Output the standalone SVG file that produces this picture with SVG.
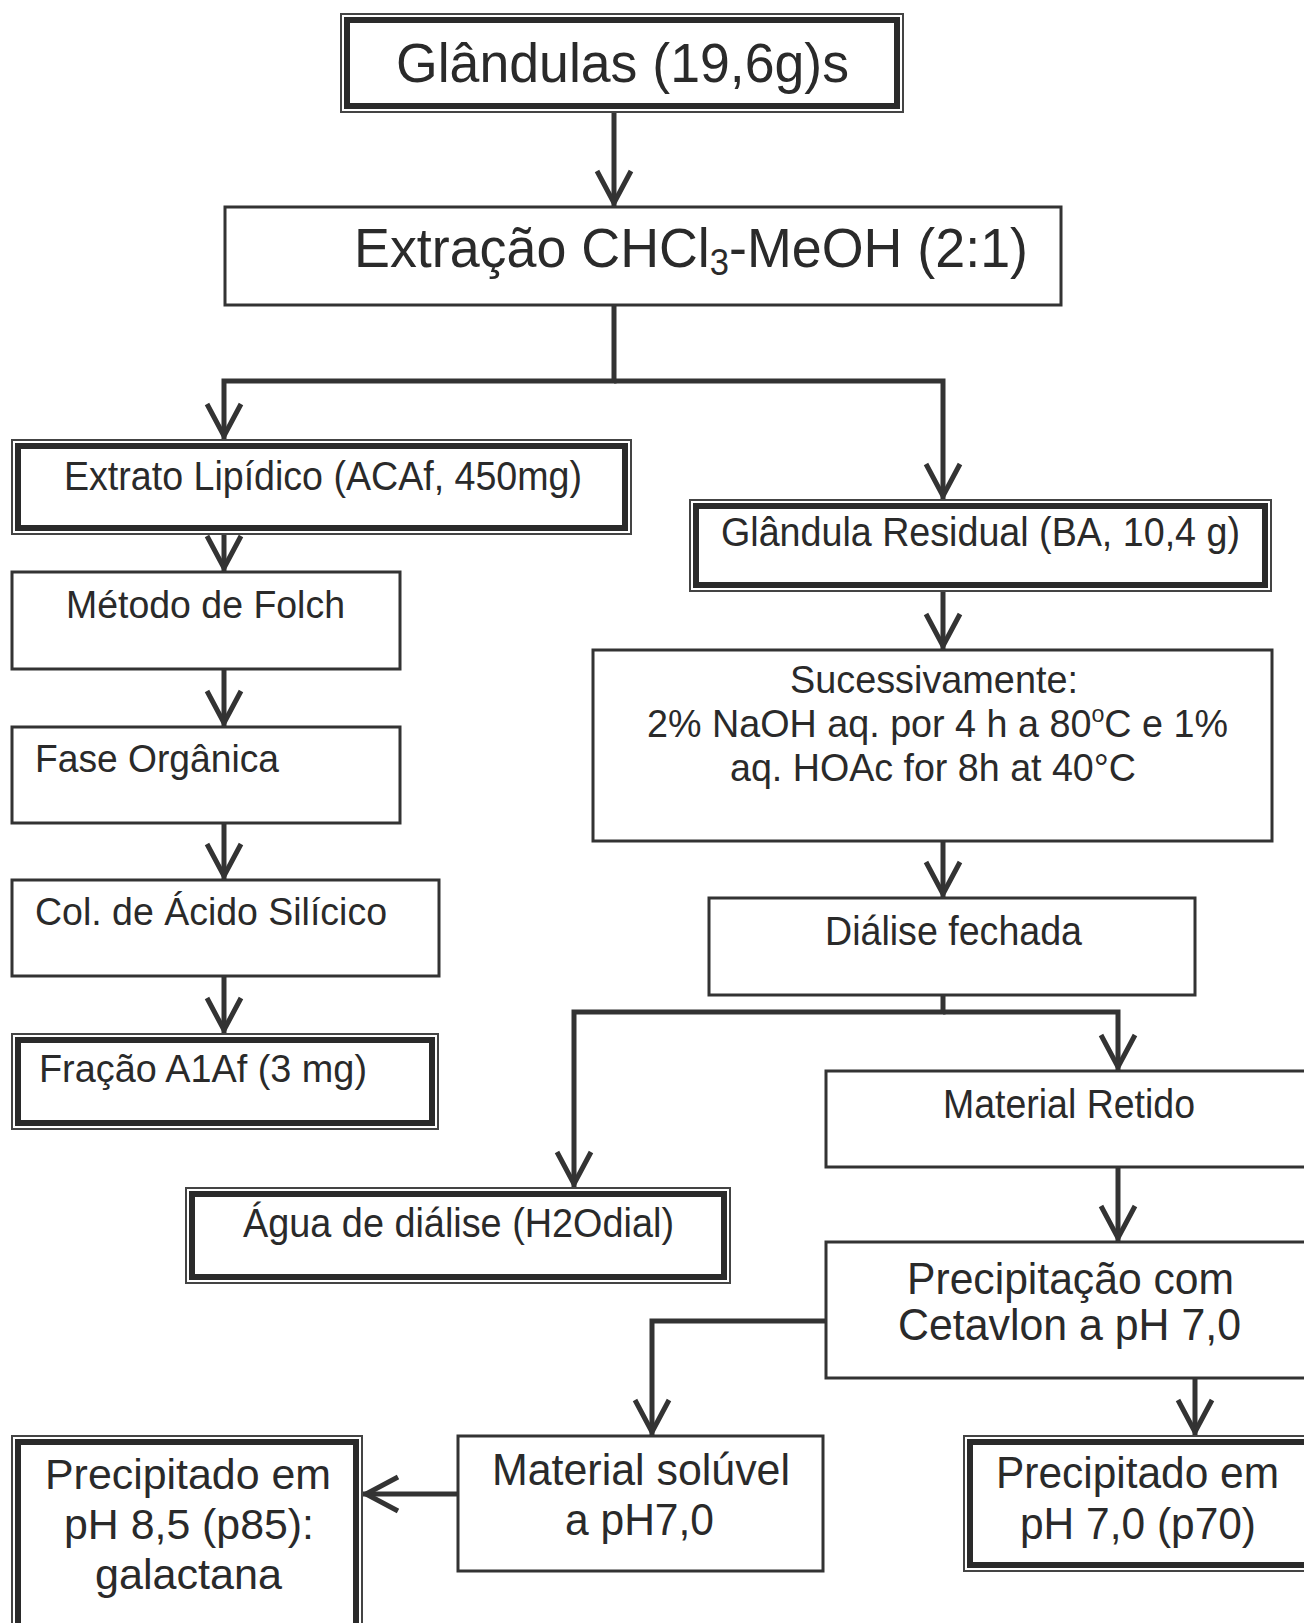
<svg xmlns="http://www.w3.org/2000/svg" width="1304" height="1623" viewBox="0 0 1304 1623">
<style>
.bx{fill:#fff;stroke:#333;stroke-width:3}
.o{fill:#fff;stroke:#444;stroke-width:2}
.i{fill:none;stroke:#2a2a2a;stroke-width:6}
.t{font-family:"Liberation Sans",Arial,sans-serif;fill:#2a2a2a}
.c{fill:none;stroke:#333;stroke-width:5;marker-end:url(#ah)}
</style>
<defs>
<marker id="ah" markerUnits="userSpaceOnUse" viewBox="-44 -24 50 48" markerWidth="50" markerHeight="48" refX="0" refY="0" orient="auto" overflow="visible">
<path d="M-36,-17 L-4,0 L-36,17" fill="none" stroke="#333" stroke-width="5"/>
</marker>
</defs>
<rect width="1304" height="1623" fill="#fff"/>

<g id="connectors">
<path class="c" d="M614,112 V207"/>
<path class="c" d="M614,305 V381 H224 V440"/>
<path class="c" d="M614,381 H943 V500"/>
<path class="c" d="M224,534 V572"/>
<path class="c" d="M224,669 V727"/>
<path class="c" d="M224,823 V880"/>
<path class="c" d="M224,976 V1034"/>
<path class="c" d="M943,591 V650"/>
<path class="c" d="M943,841 V898"/>
<path class="c" d="M943,995 V1012 H574 V1188"/>
<path class="c" d="M943,1012 H1118 V1071"/>
<path class="c" d="M1118,1167 V1242"/>
<path class="c" d="M826,1321 H652 V1436"/>
<path class="c" d="M1195,1378 V1436"/>
<path class="c" d="M458,1494 H362"/>
</g>

<g id="glandulas">
<rect class="o" x="341" y="14" width="562" height="98"/>
<rect class="i" x="347" y="20" width="550" height="86"/>
<text class="t" x="396" y="82" font-size="56" textLength="453" lengthAdjust="spacingAndGlyphs">Glândulas (19,6g)s</text>
</g>

<g id="extracao">
<rect class="bx" x="225" y="207" width="836" height="98"/>
<text class="t" x="354" y="267" font-size="56" textLength="674" lengthAdjust="spacingAndGlyphs">Extração CHCl<tspan font-size="36" dy="8">3</tspan><tspan dy="-8">-MeOH (2:1)</tspan></text>
</g>

<g id="extrato">
<rect class="o" x="12" y="440" width="619" height="94"/>
<rect class="i" x="18" y="446" width="607" height="82"/>
<text class="t" x="64" y="490" font-size="41" textLength="518" lengthAdjust="spacingAndGlyphs">Extrato Lipídico (ACAf, 450mg)</text>
</g>

<g id="folch">
<rect class="bx" x="12" y="572" width="388" height="97"/>
<text class="t" x="66" y="618" font-size="38" textLength="279" lengthAdjust="spacingAndGlyphs">Método de Folch</text>
</g>

<g id="fase">
<rect class="bx" x="12" y="727" width="388" height="96"/>
<text class="t" x="35" y="772" font-size="38" textLength="244" lengthAdjust="spacingAndGlyphs">Fase Orgânica</text>
</g>

<g id="coluna">
<rect class="bx" x="12" y="880" width="427" height="96"/>
<text class="t" x="35" y="925" font-size="38" textLength="352" lengthAdjust="spacingAndGlyphs">Col. de Ácido Silícico</text>
</g>

<g id="fracao">
<rect class="o" x="12" y="1034" width="426" height="95"/>
<rect class="i" x="18" y="1040" width="414" height="83"/>
<text class="t" x="39" y="1082" font-size="38" textLength="328" lengthAdjust="spacingAndGlyphs">Fração A1Af (3 mg)</text>
</g>

<g id="residual">
<rect class="o" x="690" y="500" width="581" height="91"/>
<rect class="i" x="696" y="506" width="569" height="79"/>
<text class="t" x="721" y="546" font-size="40" textLength="519" lengthAdjust="spacingAndGlyphs">Glândula Residual (BA, 10,4 g)</text>
</g>

<g id="sucessivamente">
<rect class="bx" x="593" y="650" width="679" height="191"/>
<text class="t" x="790" y="693" font-size="39" textLength="288" lengthAdjust="spacingAndGlyphs">Sucessivamente:</text>
<text class="t" x="647" y="737" font-size="39" textLength="581" lengthAdjust="spacingAndGlyphs">2% NaOH aq. por 4 h a 80<tspan font-size="24" dy="-15">o</tspan><tspan dy="15">C e 1%</tspan></text>
<text class="t" x="730" y="781" font-size="39" textLength="406" lengthAdjust="spacingAndGlyphs">aq. HOAc for 8h at 40°C</text>
</g>

<g id="dialise">
<rect class="bx" x="709" y="898" width="486" height="97"/>
<text class="t" x="825" y="945" font-size="40" textLength="257" lengthAdjust="spacingAndGlyphs">Diálise fechada</text>
</g>

<g id="retido">
<rect class="bx" x="826" y="1071" width="490" height="96"/>
<text class="t" x="943" y="1118" font-size="40" textLength="252" lengthAdjust="spacingAndGlyphs">Material Retido</text>
</g>

<g id="agua">
<rect class="o" x="186" y="1188" width="544" height="95"/>
<rect class="i" x="192" y="1194" width="532" height="83"/>
<text class="t" x="243" y="1237" font-size="40" textLength="431" lengthAdjust="spacingAndGlyphs">Água de diálise (H2Odial)</text>
</g>

<g id="precipitacao">
<rect class="bx" x="826" y="1242" width="490" height="136"/>
<text class="t" x="907" y="1294" font-size="45" textLength="327" lengthAdjust="spacingAndGlyphs">Precipitação com</text>
<text class="t" x="898" y="1340" font-size="45" textLength="343" lengthAdjust="spacingAndGlyphs">Cetavlon a pH 7,0</text>
</g>

<g id="soluvel">
<rect class="bx" x="458" y="1436" width="365" height="135"/>
<text class="t" x="492" y="1485" font-size="44" textLength="298" lengthAdjust="spacingAndGlyphs">Material solúvel</text>
<text class="t" x="565" y="1535" font-size="44" textLength="149" lengthAdjust="spacingAndGlyphs">a pH7,0</text>
</g>

<g id="p85">
<rect class="o" x="12" y="1436" width="350" height="200"/>
<rect class="i" x="18" y="1442" width="338" height="200"/>
<text class="t" x="45" y="1489" font-size="43" textLength="286" lengthAdjust="spacingAndGlyphs">Precipitado em</text>
<text class="t" x="64" y="1539" font-size="43" textLength="250" lengthAdjust="spacingAndGlyphs">pH 8,5 (p85):</text>
<text class="t" x="95" y="1589" font-size="43" textLength="187" lengthAdjust="spacingAndGlyphs">galactana</text>
</g>

<g id="p70">
<rect class="o" x="964" y="1436" width="360" height="135"/>
<rect class="i" x="970" y="1442" width="350" height="123"/>
<text class="t" x="996" y="1488" font-size="44" textLength="283" lengthAdjust="spacingAndGlyphs">Precipitado em</text>
<text class="t" x="1020" y="1539" font-size="44" textLength="236" lengthAdjust="spacingAndGlyphs">pH 7,0 (p70)</text>
</g>
</svg>
